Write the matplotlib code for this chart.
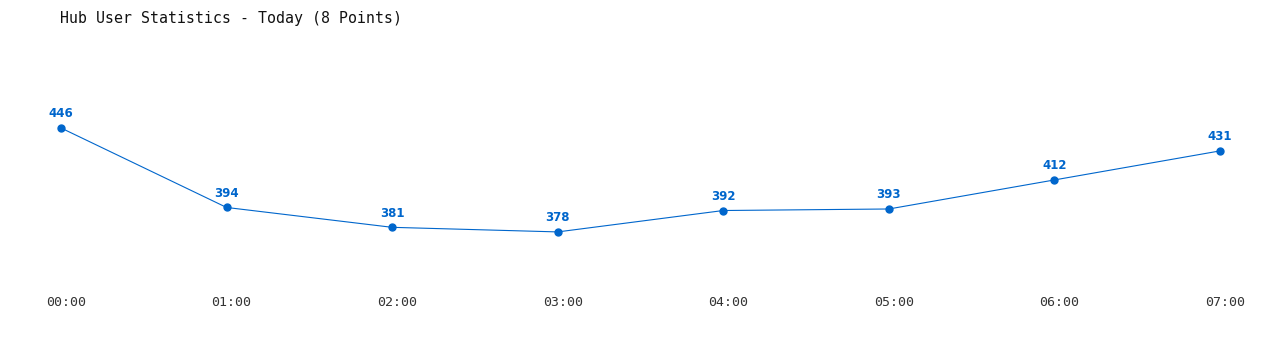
import matplotlib
matplotlib.use("Agg")
import matplotlib.pyplot as plt
import matplotlib.transforms as mtransforms

times = ["00:00", "01:00", "02:00", "03:00", "04:00", "05:00", "06:00", "07:00"]
users = [446, 394, 381, 378, 392, 393, 412, 431]

W, H = 1280, 350
fig = plt.figure(figsize=(W / 100, H / 100), dpi=100)
fig.patch.set_facecolor("white")

left_px, right_px = 61, 1220
top_px, bottom_px = 76, 290
ax = fig.add_axes([left_px / W, 1 - bottom_px / H, (right_px - left_px) / W, (bottom_px - top_px) / H])
ax.set_facecolor("white")

color = "#0066cc"
x = list(range(len(times)))
ax.plot(x, users, color=color, linewidth=0.8, marker="o", markersize=5, zorder=3, clip_on=False)
for xi, v in zip(x, users):
    ax.annotate(str(v), (xi, v), xytext=(0, 5.5), textcoords="offset points",
                ha="center", va="bottom", fontsize=8.5, fontweight="bold",
                color=color, family="DejaVu Sans")

ax.set_xlim(0, len(times) - 1)
ax.set_ylim(340, 480)
ax.set_xticks(x)
ax.set_xticklabels(times, family="DejaVu Sans Mono", fontsize=9.5, color="#333333")
ax.tick_params(axis="x", length=0, pad=4)
ax.set_yticks([])
for s in ax.spines.values():
    s.set_visible(False)
offset = mtransforms.ScaledTranslation(5 / 100, 0, fig.dpi_scale_trans)
for lbl in ax.get_xticklabels():
    lbl.set_transform(lbl.get_transform() + offset)

fig.text(60 / W, 1 - 18 / H, "Hub User Statistics - Today (8 Points)",
         family="DejaVu Sans Mono", fontsize=10.7, color="#111111",
         ha="left", va="center")

fig.savefig("out.png", dpi=100, facecolor="white")
